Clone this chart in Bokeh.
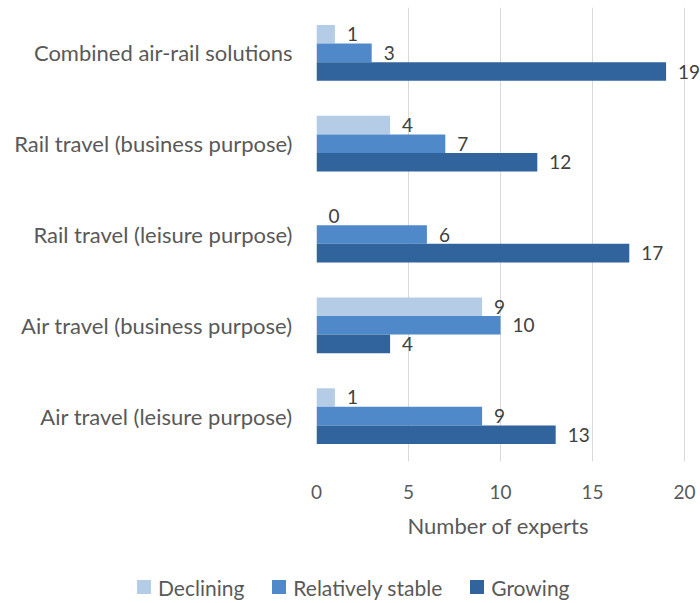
from bokeh.plotting import figure
from bokeh.layouts import column
from bokeh.models import (ColumnDataSource, FactorRange, LabelSet, Title, FixedTicker, Div)
from bokeh.transform import dodge
from bokeh.core.properties import value
from bokeh.embed import file_html
from bokeh.resources import INLINE

categories = ["Combined air-rail solutions", "Rail travel (business purpose)",
              "Rail travel (leisure purpose)", "Air travel (business purpose)",
              "Air travel (leisure purpose)"]
declining = [1, 4, 0, 9, 1]
stable = [3, 7, 6, 10, 9]
growing = [19, 12, 17, 4, 13]
series_names = ["Declining", "Relatively stable", "Growing"]
x_ticks = [0, 5, 10, 15, 20]
x_title = "Number of experts"

colors = ["#b4cce6", "#5089ca", "#31649c"]
FONT = "Lato"
LABEL_COLOR = "#595959"

src = ColumnDataSource(dict(cat=categories, declining=declining, stable=stable, growing=growing,
                            dl=[str(v) for v in declining], sl=[str(v) for v in stable],
                            gl=[str(v) for v in growing]))

p = figure(width=700, height=555, output_backend="svg", toolbar_location=None,
           y_range=FactorRange(factors=categories[::-1], range_padding=0.0),
           x_range=(0, 20.87),
           min_border_left=316, min_border_right=0, min_border_top=7, min_border_bottom=94)
p.outline_line_color = None
p.background_fill_color = "white"

h = 0.205
offs = [h, 0.0, -h]
fields = ["declining", "stable", "growing"]
labels = ["dl", "sl", "gl"]
renderers = []
for f, lab, c, o in zip(fields, labels, colors, offs):
    r = p.hbar(y=dodge("cat", o, range=p.y_range), right=f, left=0, height=h,
               source=src, fill_color=c, line_color=None)
    renderers.append(r)
    ls = LabelSet(x=f, y=dodge("cat", o, range=p.y_range), text=lab, source=src,
                  x_offset=12, text_baseline="middle", text_align="left",
                  text_font=value(FONT), text_font_size="19px", text_color="#404040")
    p.add_layout(ls)

p.xaxis.ticker = FixedTicker(ticks=x_ticks)
p.xaxis.axis_line_color = None
p.xaxis.major_tick_line_color = None
p.xaxis.minor_tick_line_color = None
p.xaxis.major_label_standoff = 17
p.xaxis.major_label_text_font = FONT
p.xaxis.major_label_text_font_size = "19px"
p.xaxis.major_label_text_color = LABEL_COLOR

p.yaxis.axis_line_color = None
p.yaxis.major_tick_line_color = None
p.yaxis.minor_tick_line_color = None
p.yaxis.major_label_standoff = 18
p.yaxis.major_label_text_font = FONT
p.yaxis.major_label_text_font_size = "22px"
p.yaxis.major_label_text_color = LABEL_COLOR

p.xgrid.grid_line_color = "#d9d9d9"
p.xgrid.grid_line_width = 1
p.ygrid.grid_line_color = None

title = Title(text=x_title, align="left", offset=91, standoff=16,
              text_font=FONT, text_font_size="22px", text_font_style="normal",
              text_color=LABEL_COLOR)
p.add_layout(title, "below")

# legend strip below the chart
items_html = "".join(
    f'<span style="display:inline-flex;align-items:center;margin-right:28px;">'
    f'<span style="display:inline-block;width:14px;height:14px;background:{c};margin-right:7px;"></span>'
    f'{n}</span>'
    for n, c in zip(series_names, colors))
legend_div = Div(
    text=(f'<div style="font-family:Lato;font-size:21px;color:{LABEL_COLOR};padding-left:137px;'
          f'padding-top:18px;white-space:nowrap;line-height:25px;">{items_html}</div>'),
    width=700, height=48, margin=0)

layout = column(p, legend_div, spacing=0)
open("out.html", "w").write(file_html(layout, INLINE))
